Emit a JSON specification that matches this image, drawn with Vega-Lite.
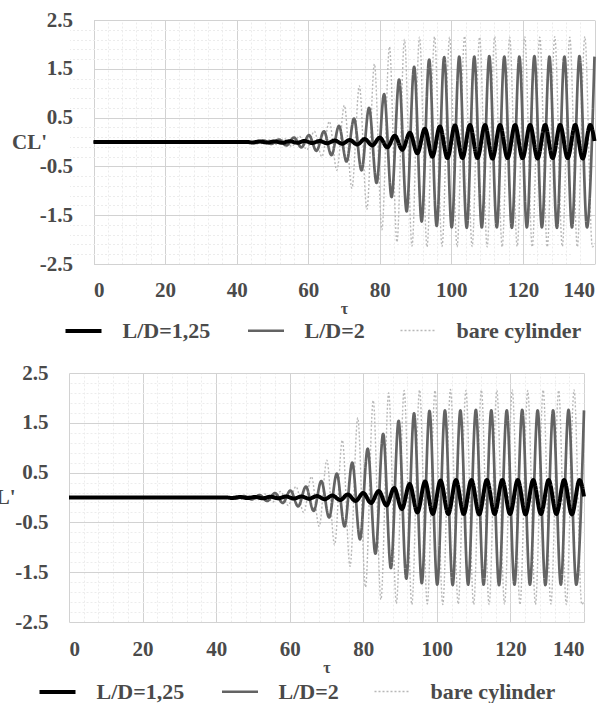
{
  "$schema": "https://vega.github.io/schema/vega-lite/v6.json",
  "padding": {"left": -21, "top": 9, "right": 0, "bottom": 0},
  "background": "white",
  "spacing": 20,
  "resolve": {
    "scale": {"color": "independent", "strokeWidth": "independent", "strokeDash": "independent"},
    "legend": {"color": "independent", "strokeWidth": "independent", "strokeDash": "independent"}
  },
  "datasets": {
    "cl": [
      {"tau": 0, "cl": 0, "series": "bare cylinder"},
      {"tau": 43, "cl": 0, "series": "bare cylinder"},
      {"tau": 44.9, "cl": 0.02, "series": "bare cylinder"},
      {"tau": 47.0, "cl": -0.03, "series": "bare cylinder"},
      {"tau": 49.1, "cl": 0.04, "series": "bare cylinder"},
      {"tau": 51.2, "cl": -0.05, "series": "bare cylinder"},
      {"tau": 53.3, "cl": 0.07, "series": "bare cylinder"},
      {"tau": 55.4, "cl": -0.09, "series": "bare cylinder"},
      {"tau": 57.5, "cl": 0.12, "series": "bare cylinder"},
      {"tau": 59.6, "cl": -0.16, "series": "bare cylinder"},
      {"tau": 61.7, "cl": 0.22, "series": "bare cylinder"},
      {"tau": 63.8, "cl": -0.30, "series": "bare cylinder"},
      {"tau": 65.9, "cl": 0.42, "series": "bare cylinder"},
      {"tau": 68.0, "cl": -0.58, "series": "bare cylinder"},
      {"tau": 70.1, "cl": 0.75, "series": "bare cylinder"},
      {"tau": 72.2, "cl": -0.95, "series": "bare cylinder"},
      {"tau": 74.3, "cl": 1.15, "series": "bare cylinder"},
      {"tau": 76.4, "cl": -1.38, "series": "bare cylinder"},
      {"tau": 78.5, "cl": 1.60, "series": "bare cylinder"},
      {"tau": 80.6, "cl": -1.80, "series": "bare cylinder"},
      {"tau": 82.7, "cl": 1.95, "series": "bare cylinder"},
      {"tau": 84.8, "cl": -2.05, "series": "bare cylinder"},
      {"tau": 86.9, "cl": 2.10, "series": "bare cylinder"},
      {"tau": 89.0, "cl": -2.13, "series": "bare cylinder"},
      {"tau": 91.1, "cl": 2.15, "series": "bare cylinder"},
      {"tau": 93.2, "cl": -2.15, "series": "bare cylinder"},
      {"tau": 95.3, "cl": 2.16, "series": "bare cylinder"},
      {"tau": 97.4, "cl": -2.14, "series": "bare cylinder"},
      {"tau": 99.5, "cl": 2.15, "series": "bare cylinder"},
      {"tau": 101.6, "cl": -2.15, "series": "bare cylinder"},
      {"tau": 103.7, "cl": 2.17, "series": "bare cylinder"},
      {"tau": 105.8, "cl": -2.14, "series": "bare cylinder"},
      {"tau": 107.9, "cl": 2.15, "series": "bare cylinder"},
      {"tau": 110.0, "cl": -2.15, "series": "bare cylinder"},
      {"tau": 112.1, "cl": 2.16, "series": "bare cylinder"},
      {"tau": 114.2, "cl": -2.15, "series": "bare cylinder"},
      {"tau": 116.3, "cl": 2.15, "series": "bare cylinder"},
      {"tau": 118.4, "cl": -2.14, "series": "bare cylinder"},
      {"tau": 120.5, "cl": 2.16, "series": "bare cylinder"},
      {"tau": 122.6, "cl": -2.15, "series": "bare cylinder"},
      {"tau": 124.7, "cl": 2.15, "series": "bare cylinder"},
      {"tau": 126.8, "cl": -2.15, "series": "bare cylinder"},
      {"tau": 128.9, "cl": 2.16, "series": "bare cylinder"},
      {"tau": 131.0, "cl": -2.14, "series": "bare cylinder"},
      {"tau": 133.1, "cl": 2.15, "series": "bare cylinder"},
      {"tau": 135.2, "cl": -2.15, "series": "bare cylinder"},
      {"tau": 137.3, "cl": 2.16, "series": "bare cylinder"},
      {"tau": 139.4, "cl": -2.15, "series": "bare cylinder"},
      {"tau": 140.0, "cl": -2.08, "series": "bare cylinder"},

      {"tau": 0, "cl": 0, "series": "L/D=2"},
      {"tau": 43, "cl": 0, "series": "L/D=2"},
      {"tau": 45.5, "cl": -0.02, "series": "L/D=2"},
      {"tau": 47.6, "cl": 0.03, "series": "L/D=2"},
      {"tau": 49.7, "cl": -0.04, "series": "L/D=2"},
      {"tau": 51.8, "cl": 0.05, "series": "L/D=2"},
      {"tau": 53.9, "cl": -0.07, "series": "L/D=2"},
      {"tau": 56.0, "cl": 0.09, "series": "L/D=2"},
      {"tau": 58.1, "cl": -0.11, "series": "L/D=2"},
      {"tau": 60.2, "cl": 0.14, "series": "L/D=2"},
      {"tau": 62.3, "cl": -0.18, "series": "L/D=2"},
      {"tau": 64.4, "cl": 0.22, "series": "L/D=2"},
      {"tau": 66.5, "cl": -0.27, "series": "L/D=2"},
      {"tau": 68.6, "cl": 0.33, "series": "L/D=2"},
      {"tau": 70.7, "cl": -0.40, "series": "L/D=2"},
      {"tau": 72.8, "cl": 0.48, "series": "L/D=2"},
      {"tau": 74.9, "cl": -0.58, "series": "L/D=2"},
      {"tau": 77.0, "cl": 0.70, "series": "L/D=2"},
      {"tau": 79.1, "cl": -0.84, "series": "L/D=2"},
      {"tau": 81.2, "cl": 0.98, "series": "L/D=2"},
      {"tau": 83.3, "cl": -1.13, "series": "L/D=2"},
      {"tau": 85.4, "cl": 1.28, "series": "L/D=2"},
      {"tau": 87.5, "cl": -1.42, "series": "L/D=2"},
      {"tau": 89.6, "cl": 1.54, "series": "L/D=2"},
      {"tau": 91.7, "cl": -1.63, "series": "L/D=2"},
      {"tau": 93.8, "cl": 1.69, "series": "L/D=2"},
      {"tau": 95.9, "cl": -1.72, "series": "L/D=2"},
      {"tau": 98.0, "cl": 1.74, "series": "L/D=2"},
      {"tau": 100.1, "cl": -1.75, "series": "L/D=2"},
      {"tau": 102.2, "cl": 1.75, "series": "L/D=2"},
      {"tau": 104.3, "cl": -1.76, "series": "L/D=2"},
      {"tau": 106.4, "cl": 1.75, "series": "L/D=2"},
      {"tau": 108.5, "cl": -1.75, "series": "L/D=2"},
      {"tau": 110.6, "cl": 1.76, "series": "L/D=2"},
      {"tau": 112.7, "cl": -1.75, "series": "L/D=2"},
      {"tau": 114.8, "cl": 1.75, "series": "L/D=2"},
      {"tau": 116.9, "cl": -1.76, "series": "L/D=2"},
      {"tau": 119.0, "cl": 1.75, "series": "L/D=2"},
      {"tau": 121.1, "cl": -1.75, "series": "L/D=2"},
      {"tau": 123.2, "cl": 1.76, "series": "L/D=2"},
      {"tau": 125.3, "cl": -1.75, "series": "L/D=2"},
      {"tau": 127.4, "cl": 1.75, "series": "L/D=2"},
      {"tau": 129.5, "cl": -1.76, "series": "L/D=2"},
      {"tau": 131.6, "cl": 1.75, "series": "L/D=2"},
      {"tau": 133.7, "cl": -1.75, "series": "L/D=2"},
      {"tau": 135.8, "cl": 1.76, "series": "L/D=2"},
      {"tau": 137.9, "cl": -1.75, "series": "L/D=2"},
      {"tau": 140.0, "cl": 1.75, "series": "L/D=2"},

      {"tau": 0, "cl": 0, "series": "L/D=1,25"},
      {"tau": 43, "cl": 0, "series": "L/D=1,25"},
      {"tau": 44.3, "cl": -0.01, "series": "L/D=1,25"},
      {"tau": 46.4, "cl": 0.01, "series": "L/D=1,25"},
      {"tau": 48.5, "cl": -0.01, "series": "L/D=1,25"},
      {"tau": 50.6, "cl": 0.01, "series": "L/D=1,25"},
      {"tau": 52.7, "cl": -0.015, "series": "L/D=1,25"},
      {"tau": 54.8, "cl": 0.015, "series": "L/D=1,25"},
      {"tau": 56.9, "cl": -0.015, "series": "L/D=1,25"},
      {"tau": 59.0, "cl": 0.02, "series": "L/D=1,25"},
      {"tau": 61.1, "cl": -0.02, "series": "L/D=1,25"},
      {"tau": 63.2, "cl": 0.02, "series": "L/D=1,25"},
      {"tau": 65.3, "cl": -0.025, "series": "L/D=1,25"},
      {"tau": 67.4, "cl": 0.03, "series": "L/D=1,25"},
      {"tau": 69.5, "cl": -0.035, "series": "L/D=1,25"},
      {"tau": 71.6, "cl": 0.04, "series": "L/D=1,25"},
      {"tau": 73.7, "cl": -0.05, "series": "L/D=1,25"},
      {"tau": 75.8, "cl": 0.06, "series": "L/D=1,25"},
      {"tau": 77.9, "cl": -0.07, "series": "L/D=1,25"},
      {"tau": 80.0, "cl": 0.09, "series": "L/D=1,25"},
      {"tau": 82.1, "cl": -0.11, "series": "L/D=1,25"},
      {"tau": 84.2, "cl": 0.13, "series": "L/D=1,25"},
      {"tau": 86.3, "cl": -0.16, "series": "L/D=1,25"},
      {"tau": 88.4, "cl": 0.19, "series": "L/D=1,25"},
      {"tau": 90.5, "cl": -0.23, "series": "L/D=1,25"},
      {"tau": 92.6, "cl": 0.27, "series": "L/D=1,25"},
      {"tau": 94.7, "cl": -0.30, "series": "L/D=1,25"},
      {"tau": 96.8, "cl": 0.32, "series": "L/D=1,25"},
      {"tau": 98.9, "cl": -0.33, "series": "L/D=1,25"},
      {"tau": 101.0, "cl": 0.34, "series": "L/D=1,25"},
      {"tau": 103.1, "cl": -0.33, "series": "L/D=1,25"},
      {"tau": 105.2, "cl": 0.35, "series": "L/D=1,25"},
      {"tau": 107.3, "cl": -0.33, "series": "L/D=1,25"},
      {"tau": 109.4, "cl": 0.35, "series": "L/D=1,25"},
      {"tau": 111.5, "cl": -0.34, "series": "L/D=1,25"},
      {"tau": 113.6, "cl": 0.35, "series": "L/D=1,25"},
      {"tau": 115.7, "cl": -0.33, "series": "L/D=1,25"},
      {"tau": 117.8, "cl": 0.35, "series": "L/D=1,25"},
      {"tau": 119.9, "cl": -0.33, "series": "L/D=1,25"},
      {"tau": 122.0, "cl": 0.35, "series": "L/D=1,25"},
      {"tau": 124.1, "cl": -0.34, "series": "L/D=1,25"},
      {"tau": 126.2, "cl": 0.35, "series": "L/D=1,25"},
      {"tau": 128.3, "cl": -0.33, "series": "L/D=1,25"},
      {"tau": 130.4, "cl": 0.35, "series": "L/D=1,25"},
      {"tau": 132.5, "cl": -0.33, "series": "L/D=1,25"},
      {"tau": 134.6, "cl": 0.35, "series": "L/D=1,25"},
      {"tau": 136.7, "cl": -0.34, "series": "L/D=1,25"},
      {"tau": 138.8, "cl": 0.35, "series": "L/D=1,25"},
      {"tau": 140.0, "cl": 0.02, "series": "L/D=1,25"}
    ]
  },
  "vconcat": [
    {
      "width": 526,
      "height": 244,
      "data": {"name": "cl"},
      "encoding": {
        "color": {"field": "series", "type": "nominal",
          "scale": {"domain": ["L/D=1,25", "L/D=2", "bare cylinder"], "range": ["#000000", "#636363", "#b8b8b8"]},
          "legend": {"title": null, "orient": "none", "legendX": -5.5, "legendY": 291, "direction": "horizontal"}},
        "strokeWidth": {"field": "series", "type": "nominal",
          "scale": {"domain": ["L/D=1,25", "L/D=2", "bare cylinder"], "range": [4, 1.4, 1.1]},
          "legend": {"title": null, "orient": "none", "legendX": -5.5, "legendY": 291, "direction": "horizontal"}},
        "strokeDash": {"field": "series", "type": "nominal",
          "scale": {"domain": ["L/D=1,25", "L/D=2", "bare cylinder"], "range": [[1, 0], [1, 0], [2, 2]]},
          "legend": {"title": null, "orient": "none", "legendX": -5.5, "legendY": 291, "direction": "horizontal"}}
      },
      "layer": [
        {
          "transform": [{"filter": "datum.series === 'bare cylinder'"}],
          "mark": {"type": "line", "interpolate": "monotone"},
          "encoding": {
            "x": {"field": "tau", "type": "quantitative",
              "scale": {"domain": [0, 140], "range": [24.5, 525.5], "nice": false, "zero": false},
              "axis": {"orient": "top", "values": [4, 8, 12, 16, 24, 28, 32, 36, 44, 48, 52, 56, 64, 68, 72, 76, 84, 88, 92, 96, 104, 108, 112, 116, 124, 128, 132, 136], "grid": true, "gridColor": "#ececec", "gridDash": [2, 2], "labels": false, "ticks": false, "domain": false, "title": null}},
            "y": {"field": "cl", "type": "quantitative",
              "scale": {"domain": [-2.5, 2.5], "nice": false, "zero": false},
              "axis": {"orient": "right", "values": [-2.3, -2.1, -1.9, -1.7, -1.3, -1.1, -0.9, -0.7, -0.3, -0.1, 0.1, 0.3, 0.7, 0.9, 1.1, 1.3, 1.7, 1.9, 2.1, 2.3], "grid": true, "gridColor": "#ececec", "gridDash": [2, 2], "labels": false, "ticks": false, "domain": false, "title": null}}
          }
        },
        {
          "transform": [{"filter": "datum.series === 'L/D=2'"}],
          "mark": {"type": "line", "interpolate": "monotone"},
          "encoding": {
            "x": {"field": "tau", "type": "quantitative",
              "scale": {"domain": [0, 140], "range": [24.5, 525.5], "nice": false, "zero": false},
              "axis": {"orient": "bottom", "values": [0, 20, 40, 60, 80, 100, 120, 140], "grid": true, "labelPadding": 15, "title": "τ", "titleFontSize": 16, "titlePadding": 0}},
            "y": {"field": "cl", "type": "quantitative",
              "scale": {"domain": [-2.5, 2.5], "nice": false, "zero": false},
              "axis": {"orient": "left", "offset": -24.5, "values": [-2.5, -1.5, -0.5, 0.5, 1.5, 2.5], "grid": true, "labelPadding": 21,
                "labelExpr": "datum.value < 0 ? '-' + format(-datum.value, '.1f') : format(datum.value, '.1f')",
                "title": "CL'", "titleAngle": 0, "titleAlign": "right", "titleBaseline": "middle", "titleX": -47, "titleFontSize": 21}}
          }
        },
        {
          "transform": [{"filter": "datum.series === 'L/D=1,25'"}],
          "mark": {"type": "line", "interpolate": "monotone"},
          "encoding": {
            "x": {"field": "tau", "type": "quantitative", "scale": {"domain": [0, 140], "range": [24.5, 525.5], "nice": false, "zero": false}, "axis": null},
            "y": {"field": "cl", "type": "quantitative", "scale": {"domain": [-2.5, 2.5], "nice": false, "zero": false}, "axis": null}
          }
        }
      ],
      "resolve": {"axis": {"x": "independent", "y": "independent"}}
    },
    {
      "width": 515,
      "height": 249,
      "data": {"name": "cl"},
      "encoding": {
        "color": {"field": "series", "type": "nominal",
          "scale": {"domain": ["L/D=1,25", "L/D=2", "bare cylinder"], "range": ["#000000", "#636363", "#b8b8b8"]},
          "legend": {"title": null, "orient": "none", "legendX": -31.5, "legendY": 299, "direction": "horizontal"}},
        "strokeWidth": {"field": "series", "type": "nominal",
          "scale": {"domain": ["L/D=1,25", "L/D=2", "bare cylinder"], "range": [4, 1.4, 1.1]},
          "legend": {"title": null, "orient": "none", "legendX": -31.5, "legendY": 299, "direction": "horizontal"}},
        "strokeDash": {"field": "series", "type": "nominal",
          "scale": {"domain": ["L/D=1,25", "L/D=2", "bare cylinder"], "range": [[1, 0], [1, 0], [2, 2]]},
          "legend": {"title": null, "orient": "none", "legendX": -31.5, "legendY": 299, "direction": "horizontal"}}
      },
      "layer": [
        {
          "transform": [{"filter": "datum.series === 'bare cylinder'"}],
          "mark": {"type": "line", "interpolate": "monotone"},
          "encoding": {
            "x": {"field": "tau", "type": "quantitative",
              "scale": {"domain": [0, 140], "nice": false, "zero": false},
              "axis": {"orient": "top", "values": [4, 8, 12, 16, 24, 28, 32, 36, 44, 48, 52, 56, 64, 68, 72, 76, 84, 88, 92, 96, 104, 108, 112, 116, 124, 128, 132, 136], "grid": true, "gridColor": "#ececec", "gridDash": [2, 2], "labels": false, "ticks": false, "domain": false, "title": null}},
            "y": {"field": "cl", "type": "quantitative",
              "scale": {"domain": [-2.5, 2.5], "nice": false, "zero": false},
              "axis": {"orient": "right", "values": [-2.3, -2.1, -1.9, -1.7, -1.3, -1.1, -0.9, -0.7, -0.3, -0.1, 0.1, 0.3, 0.7, 0.9, 1.1, 1.3, 1.7, 1.9, 2.1, 2.3], "grid": true, "gridColor": "#ececec", "gridDash": [2, 2], "labels": false, "ticks": false, "domain": false, "title": null}}
          }
        },
        {
          "transform": [{"filter": "datum.series === 'L/D=2'"}],
          "mark": {"type": "line", "interpolate": "monotone"},
          "encoding": {
            "x": {"field": "tau", "type": "quantitative",
              "scale": {"domain": [0, 140], "nice": false, "zero": false},
              "axis": {"orient": "bottom", "values": [0, 20, 40, 60, 80, 100, 120, 140], "grid": true, "labelPadding": 16, "title": "τ", "titleFontSize": 16, "titlePadding": 0}},
            "y": {"field": "cl", "type": "quantitative",
              "scale": {"domain": [-2.5, 2.5], "nice": false, "zero": false},
              "axis": {"orient": "left", "values": [-2.5, -1.5, -0.5, 0.5, 1.5, 2.5], "grid": true, "labelPadding": 21,
                "labelExpr": "datum.value < 0 ? '-' + format(-datum.value, '.1f') : format(datum.value, '.1f')",
                "title": "CL'", "titleAngle": 0, "titleAlign": "right", "titleBaseline": "middle", "titleX": -54, "titleFontSize": 21}}
          }
        },
        {
          "transform": [{"filter": "datum.series === 'L/D=1,25'"}],
          "mark": {"type": "line", "interpolate": "monotone"},
          "encoding": {
            "x": {"field": "tau", "type": "quantitative", "scale": {"domain": [0, 140], "nice": false, "zero": false}, "axis": null},
            "y": {"field": "cl", "type": "quantitative", "scale": {"domain": [-2.5, 2.5], "nice": false, "zero": false}, "axis": null}
          }
        }
      ],
      "resolve": {"axis": {"x": "independent", "y": "independent"}}
    }
  ],
  "config": {
    "view": {"stroke": null},
    "font": "Liberation Serif",
    "axis": {
      "labelFont": "Liberation Serif", "labelFontSize": 21, "labelFontWeight": "bold", "labelColor": "#4a4a4a",
      "titleFont": "Liberation Serif", "titleFontWeight": "bold", "titleColor": "#4a4a4a",
      "gridColor": "#d2d2d2", "gridWidth": 1, "domain": false, "ticks": false
    },
    "legend": {
      "labelFont": "Liberation Serif", "labelFontSize": 22, "labelFontWeight": "bold", "labelColor": "#4a4a4a",
      "symbolType": "stroke", "symbolSize": 1296, "labelOffset": 19, "columnPadding": 32, "labelLimit": 300
    }
  }
}
